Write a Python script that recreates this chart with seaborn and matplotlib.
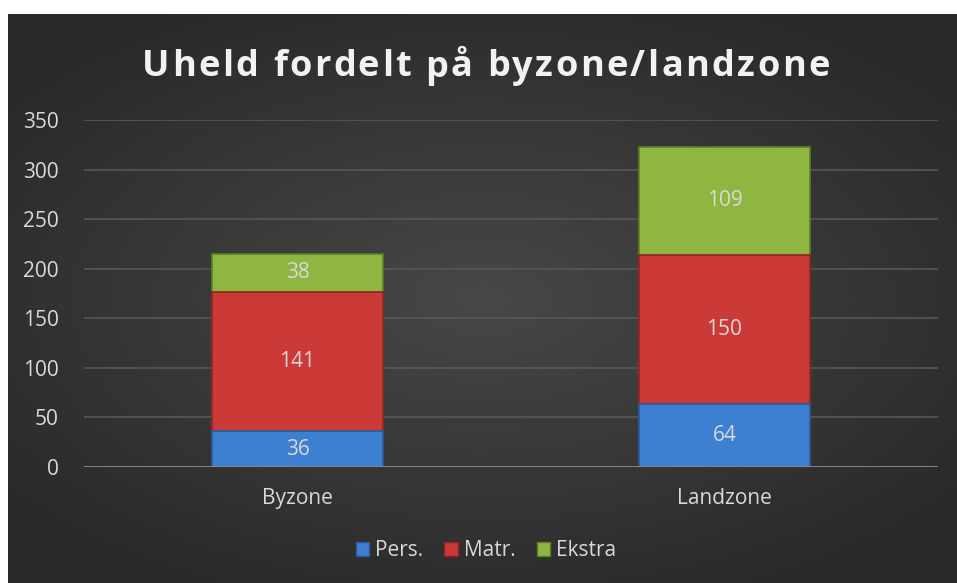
import numpy as np
import pandas as pd
import matplotlib
matplotlib.use("Agg")
import matplotlib.pyplot as plt
from matplotlib.patches import Patch
import seaborn as sns

categories = ["Byzone", "Landzone"]
series = ["Pers.", "Matr.", "Ekstra"]
pers = [36, 64]
matr = [141, 150]
ekstra = [38, 109]
yticks = [0, 50, 100, 150, 200, 250, 300, 350]
title = "Uheld fordelt på byzone/landzone"

colors = {"Pers.": "#3d7fd0", "Matr.": "#cc3a38", "Ekstra": "#8fb640"}
edge = {"Pers.": "#2a5a98", "Matr.": "#8e2222", "Ekstra": "#5f7f25"}
txt = "#d9d9d9"

sns.set_theme(style="dark")
plt.rcParams["font.family"] = ["Open Sans", "DejaVu Sans"]

W, H = 957, 583
fig = plt.figure(figsize=(W / 100, H / 100), dpi=100, facecolor="white")

# background panel with radial gradient
bg = fig.add_axes([8 / W, 0, (W - 8) / W, (H - 14) / H])
bg.set_axis_off()
yy, xx = np.mgrid[-1:1:300j, -1:1:500j]
r = np.sqrt((xx / 1.0) ** 2 + (yy / 0.9) ** 2)
img = 0.28 - 0.12 * np.clip(r, 0, 1.3) / 1.3
bg.imshow(np.dstack([img, img, img]), aspect="auto", extent=[0, 1, 0, 1], interpolation="bicubic")
bg.set_xlim(0, 1)
bg.set_ylim(0, 1)

ax = fig.add_axes([84 / W, 1 - 467 / H, (938 - 84) / W, (467 - 120) / H])
ax.set_facecolor("none")

df = pd.DataFrame({"cat": categories, "Pers.": pers, "Matr.": matr, "Ekstra": ekstra})
df["top2"] = df["Pers."] + df["Matr."]
df["top3"] = df["top2"] + df["Ekstra"]

bw = 0.4
sns.barplot(data=df, x="cat", y="top3", color=colors["Ekstra"], width=bw, ax=ax,
            saturation=1, edgecolor=edge["Ekstra"], linewidth=1.2, zorder=3)
sns.barplot(data=df, x="cat", y="top2", color=colors["Matr."], width=bw, ax=ax,
            saturation=1, edgecolor=edge["Matr."], linewidth=1.2, zorder=4)
sns.barplot(data=df, x="cat", y="Pers.", color=colors["Pers."], width=bw, ax=ax,
            saturation=1, edgecolor=edge["Pers."], linewidth=1.2, zorder=5)

# value labels
for i in range(len(categories)):
    p, m, e = pers[i], matr[i], ekstra[i]
    for v, mid in [(p, p / 2), (m, p + m / 2), (e, p + m + e / 2)]:
        ax.text(i, mid, str(v), ha="center", va="center", color=txt, fontsize=15, zorder=10)

ax.set_ylim(0, 350)
ax.set_xlim(-0.5, 1.5)
ax.set_yticks(yticks)
ax.set_yticklabels([str(t) for t in yticks])
ax.grid(axis="y", color="#575757", linewidth=1.2, zorder=0)
ax.grid(axis="x", visible=False)
ax.axhline(0, color="#8a8a8a", linewidth=2, zorder=6)
for s in ax.spines.values():
    s.set_visible(False)
ax.tick_params(axis="both", length=0, colors=txt, labelsize=15)
ax.tick_params(axis="y", pad=18)
ax.tick_params(axis="x", pad=15)
ax.set_xlabel("")
ax.set_ylabel("")

# letter-spaced title
renderer = fig.canvas.get_renderer()
tkw = dict(color="#f2f2f2", fontsize=26, fontweight="bold", family=["Open Sans", "DejaVu Sans"])
def text_w(s):
    if not s:
        return 0.0
    t = fig.text(0, 0, s.replace(" ", "\u00a0"), **tkw)
    w = t.get_window_extent(renderer).width
    t.remove()
    return w
spacing = 2.5
total = text_w(title) + spacing * (len(title) - 1)
x0 = 486 - total / 2
for k, ch in enumerate(title):
    if ch == " ":
        continue
    xk = x0 + text_w(title[:k]) + spacing * k
    fig.text(xk / W, 1 - 63 / H, ch, ha="left", va="center_baseline", **tkw)

handles = [Patch(facecolor=colors[s], edgecolor=edge[s], label=s) for s in series]
leg = fig.legend(handles=handles, loc="center", bbox_to_anchor=(486 / W, 1 - 551 / H),
                 ncol=3, frameon=False, fontsize=15, handlelength=0.65, handleheight=0.65,
                 handletextpad=0.3, columnspacing=1.0)
for t in leg.get_texts():
    t.set_color(txt)

fig.savefig("out.png", dpi=100, facecolor="white")
